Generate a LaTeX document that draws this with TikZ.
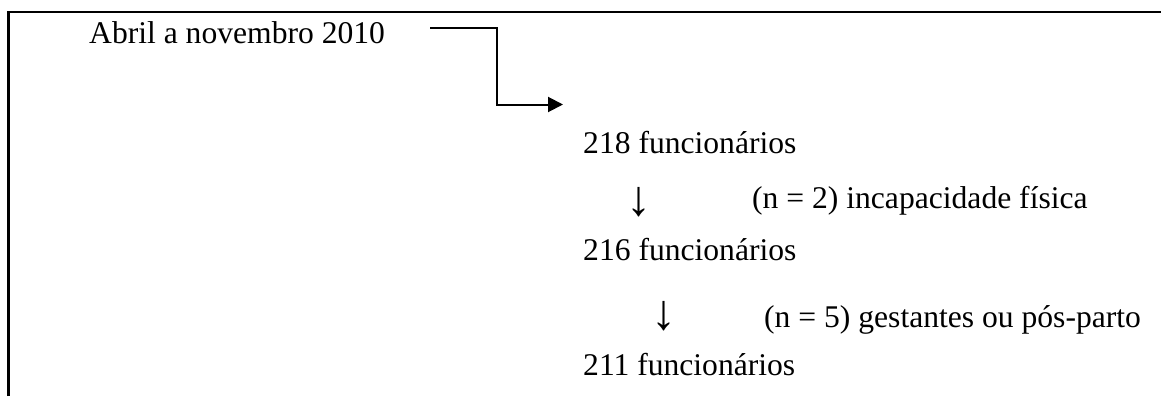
\documentclass[tikz,border=0pt]{standalone}
\usepackage{fontspec}
\setmainfont{Liberation Serif}
\usetikzlibrary{arrows.meta}
\begin{document}
\begin{tikzpicture}[x=1pt,y=-1pt,
  txt/.style={anchor=base west, inner sep=0pt, font=\fontsize{31.6}{38}\selectfont},
  downarr/.style={anchor=center, inner sep=0pt, font=\fontsize{50}{60}\selectfont},
  frameline/.style={line width=2.8pt},
  elbow/.style={line width=2pt, -{Triangle[length=15pt,width=15pt]}}]
\useasboundingbox (0,0) rectangle (1161,396);
\draw[frameline] (8.5,396) -- (8.5,12) -- (1161,12);
\node[txt] (abril) at (89,43.3) {Abril a novembro 2010};
\node[txt] (n218) at (583,153) {218 funcionários};
\node[downarr] (d1) at (638.5,202.5) {↓};
\node[txt] (x1) at (752,208) {(n = 2) incapacidade física};
\node[txt] (n216) at (583,260) {216 funcionários};
\node[downarr] (d2) at (664,316) {↓};
\node[txt] (x2) at (764,327) {(n = 5) gestantes ou pós-parto};
\node[txt] (n211) at (583,375) {211 funcionários};
\coordinate (s) at (430,28.5);
\coordinate (e) at (563,104.5);
\draw[elbow] (s) -- ++(67,0) |- (e);
\end{tikzpicture}
\end{document}
